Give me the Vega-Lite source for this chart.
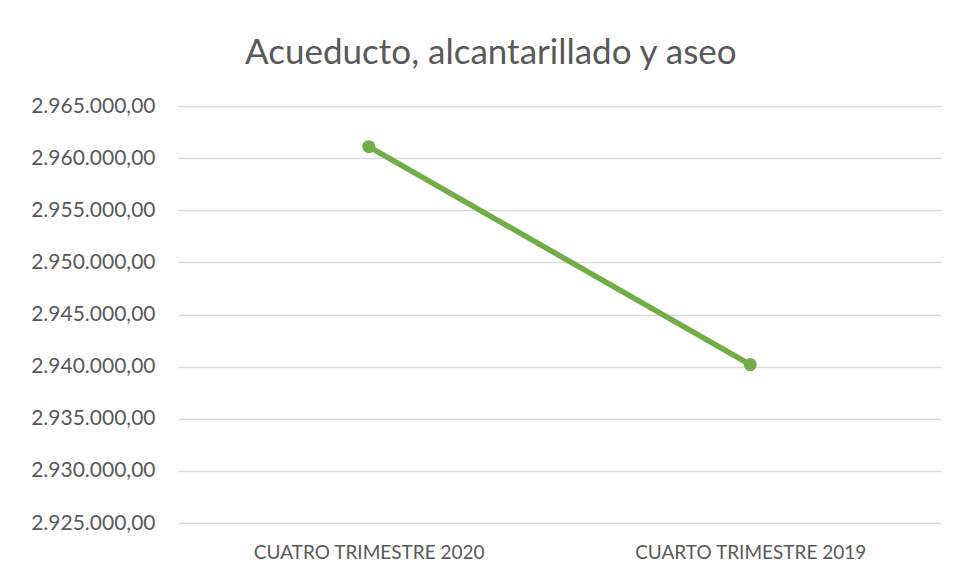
{
  "$schema": "https://vega.github.io/schema/vega-lite/v6.json",
  "width": 763,
  "height": 417,
  "autosize": {"type": "none"},
  "padding": {"left": 178, "top": 106, "right": 17, "bottom": 56},
  "background": "white",
  "config": {
    "locale": {"number": {"decimal": ",", "thousands": ".", "grouping": [3], "currency": ["", ""]}},
    "view": {"stroke": null},
    "font": "Lato"
  },
  "title": {
    "text": "Acueducto, alcantarillado y aseo",
    "font": "Lato",
    "fontSize": 35,
    "fontWeight": "normal",
    "color": "#595959",
    "anchor": "middle",
    "frame": "bounds",
    "dx": 5,
    "offset": 24
  },
  "data": {
    "values": [
      {"periodo": "CUATRO TRIMESTRE 2020", "valor": 2961100},
      {"periodo": "CUARTO TRIMESTRE 2019", "valor": 2940200}
    ]
  },
  "encoding": {
    "x": {
      "field": "periodo",
      "type": "nominal",
      "sort": null,
      "scale": {"type": "point", "padding": 0.5},
      "axis": {
        "title": null,
        "labelAngle": 0,
        "labelFont": "Lato",
        "labelFontSize": 19,
        "labelLimit": 0,
        "labelColor": "#595959",
        "domain": false,
        "ticks": false,
        "labelPadding": 20,
        "grid": false
      }
    },
    "y": {
      "field": "valor",
      "type": "quantitative",
      "scale": {"domain": [2925000, 2965000], "zero": false, "nice": false},
      "axis": {
        "title": null,
        "values": [2925000, 2930000, 2935000, 2940000, 2945000, 2950000, 2955000, 2960000, 2965000],
        "format": ",.2f",
        "labelFont": "Lato",
        "labelFontSize": 21,
        "labelLimit": 0,
        "labelColor": "#595959",
        "domain": false,
        "ticks": false,
        "labelPadding": 23,
        "grid": true,
        "gridColor": "#D9D9D9",
        "gridWidth": 1.5
      }
    }
  },
  "layer": [
    {"mark": {"type": "line", "color": "#70AD47", "strokeWidth": 5.5, "strokeCap": "round"}},
    {"mark": {"type": "point", "filled": true, "color": "#70AD47", "size": 170, "opacity": 1}}
  ]
}
